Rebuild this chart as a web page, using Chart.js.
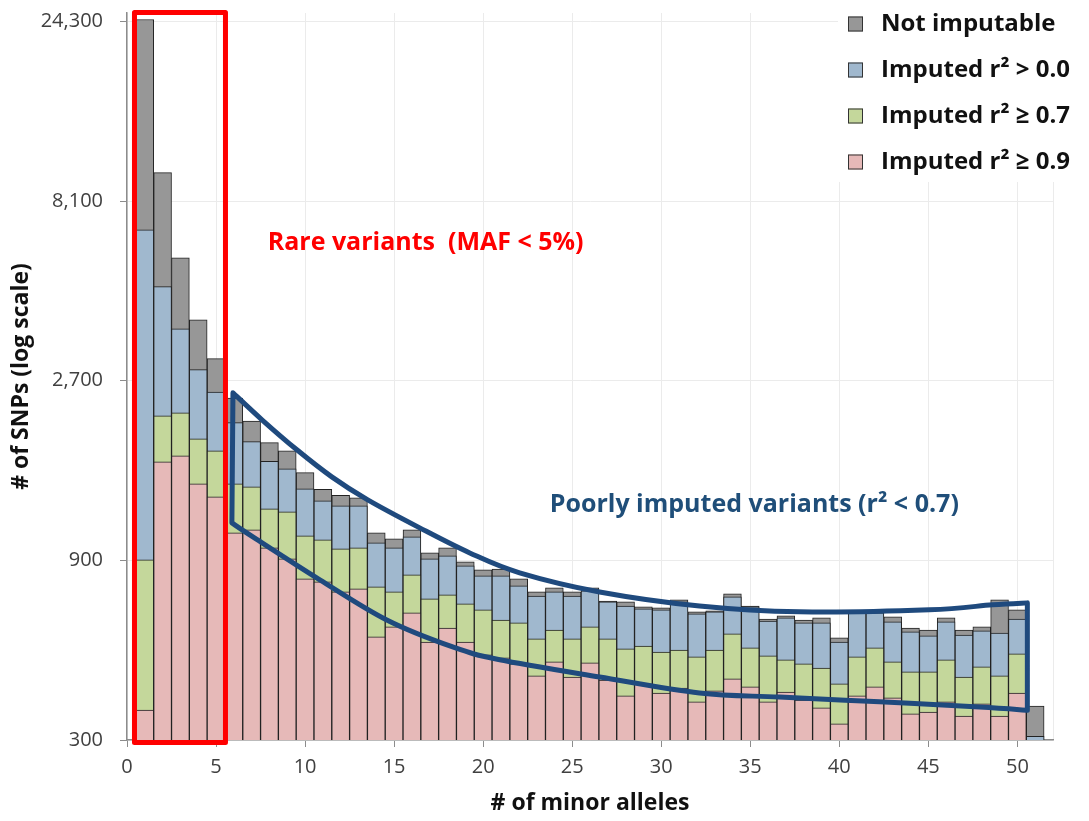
<!DOCTYPE html>
<html>
<head>
<meta charset="utf-8">
<script src="https://cdn.jsdelivr.net/npm/chart.js@4.4.1/dist/chart.umd.min.js"></script>
<style>
  html, body { margin: 0; padding: 0; background: #fff; }
  #wrap { width: 1089px; height: 821px; position: relative; }
</style>
</head>
<body>
<div id="wrap"><canvas id="snpChart"></canvas></div>
<script>
// minor allele count per bin
const alleles = [1, 2, 3, 4, 5, 6, 7, 8, 9, 10, 11, 12, 13, 14, 15, 16, 17, 18, 19, 20,
  21, 22, 23, 24, 25, 26, 27, 28, 29, 30, 31, 32, 33, 34, 35, 36, 37, 38, 39, 40,
  41, 42, 43, 44, 45, 46, 47, 48, 49, 50, 51]

// top of each coloured band (bands are nested, so these are running totals)
const notImputable = [24600, 9640, 5730, 3920, 3090, 2430, 2110, 1850, 1760, 1540,
  1390, 1340, 1320, 1065, 1027, 1085, 942, 972, 892, 849,
  854, 804, 742, 761, 742, 761, 702, 698, 677, 673,
  707, 657, 661, 733, 681, 629, 641, 625, 633, 560,
  661, 661, 637, 595, 588, 633, 588, 599, 707, 665, 369]
const imputedAny = [6800, 4800, 3710, 2890, 2520, 2090, 1860, 1650, 1576, 1394,
  1295, 1256, 1256, 1002, 972, 1039, 908, 925, 870, 819,
  819, 770, 724, 742, 724, 747, 698, 681, 669, 665,
  698, 649, 657, 720, 677, 621, 633, 614, 614, 546,
  653, 653, 618, 581, 567, 618, 570, 585, 577, 629, 307]
const imputed07 = [903, 2180, 2220, 1893, 1759, 1437, 1411, 1233, 1211, 1046,
  1020, 966, 972, 765, 742, 824, 711, 729, 690, 665,
  625, 614, 557, 588, 557, 599, 557, 524, 533, 514,
  520, 499, 520, 574, 527, 502, 490, 478, 466, 423,
  499, 527, 484, 455, 455, 490, 441, 469, 444, 508, null]
const imputed09 = [360, 1644, 1706, 1437, 1327, 1065, 1085, 972, 908, 804,
  789, 742, 756, 564, 599, 653, 546, 595, 546, 505,
  496, 478, 444, 484, 441, 481, 433, 393, 423, 400,
  412, 379, 405, 436, 415, 379, 402, 383, 365, 331,
  393, 415, 388, 352, 356, 379, 347, 374, 347, 400, null]

const yTicks = [300, 900, 2700, 8100, 24300]
const xTicks = [0, 5, 10, 15, 20, 25, 30, 35, 40, 45, 50]

const seriesLabels = ['Not imputable', 'Imputed r\u00b2 > 0.0', 'Imputed r\u00b2 \u2265 0.7', 'Imputed r\u00b2 \u2265 0.9']
const seriesColors = ['#979797', '#a0b8ce', '#c4d79b', '#e6b9b8']

// outline of the "poorly imputed" region, in data units (alleles, SNPs)
const poorUpper = [[5.95, 2509], [7.58, 2127], [9.54, 1770], [11.5, 1500], [13.52, 1303],
  [16.44, 1098], [19.25, 942], [22.05, 834], [26.54, 742], [32.15, 681], [37.77, 657],
  [45.06, 665], [48.6, 686], [50.56, 694]]
const poorLower = [[50.56, 360], [47.87, 367], [42.26, 379], [36.64, 390], [32.15, 400],
  [26.54, 441], [20.93, 490], [18.29, 530], [14.59, 625], [10.83, 799],
  [7.07, 1039], [5.89, 1132]]

const FONT = "'Open Sans', 'DejaVu Sans', sans-serif"

function points (vals) {
  return alleles.map((a, i) => ({ x: a, y: vals[i] }))
}

// catmull-rom through the given pixel points
function splineTo (ctx, pts, first) {
  if (first) ctx.moveTo(pts[0][0], pts[0][1])
  else ctx.lineTo(pts[0][0], pts[0][1])
  for (let i = 0; i < pts.length - 1; i++) {
    const p0 = pts[Math.max(i - 1, 0)]
    const p1 = pts[i]
    const p2 = pts[i + 1]
    const p3 = pts[Math.min(i + 2, pts.length - 1)]
    ctx.bezierCurveTo(
      p1[0] + (p2[0] - p0[0]) / 6, p1[1] + (p2[1] - p0[1]) / 6,
      p2[0] - (p3[0] - p1[0]) / 6, p2[1] - (p3[1] - p1[1]) / 6,
      p2[0], p2[1])
  }
}

const overlay = {
  id: 'overlay',
  afterDatasetsDraw (chart) {
    const { ctx, chartArea, scales: { x, y } } = chart
    const px = p => [x.getPixelForValue(p[0]), y.getPixelForValue(p[1])]
    ctx.save()

    // red box round the rare variants
    ctx.strokeStyle = '#ff0000'
    ctx.lineWidth = 5
    ctx.lineJoin = 'round'
    const l = x.getPixelForValue(0.42)
    const r = x.getPixelForValue(5.53)
    const t = chartArea.top - 0.5
    ctx.strokeRect(l, t, r - l, chartArea.bottom + 2.5 - t)

    // blue outline
    ctx.strokeStyle = '#1f4a7e'
    ctx.lineWidth = 5
    ctx.beginPath()
    splineTo(ctx, poorUpper.map(px), true)
    splineTo(ctx, poorLower.map(px), false)
    ctx.closePath()
    ctx.stroke()

    ctx.textBaseline = 'middle'
    ctx.textAlign = 'left'
    ctx.font = 'bold 25px ' + FONT
    ctx.fillStyle = '#ff0000'
    ctx.fillText('Rare variants  (MAF < 5%)', x.getPixelForValue(7.9), y.getPixelForValue(6280))
    ctx.fillStyle = '#1f4e79'
    ctx.fillText('Poorly imputed variants (r\u00b2 < 0.7)', x.getPixelForValue(23.74), y.getPixelForValue(1264))
    ctx.restore()
  },
  afterDraw (chart) {
    const { ctx } = chart
    ctx.save()
    ctx.fillStyle = '#fff'
    ctx.fillRect(838, 0, 251, 182)
    ctx.font = 'bold 24px ' + FONT
    ctx.textBaseline = 'middle'
    ctx.textAlign = 'left'
    seriesLabels.forEach((label, i) => {
      const cy = 24 + i * 46
      ctx.fillStyle = seriesColors[i]
      ctx.fillRect(848, cy - 7.5, 15, 15)
      ctx.strokeStyle = '#333'
      ctx.lineWidth = 1
      ctx.strokeRect(848.5, cy - 7, 14, 14)
      ctx.fillStyle = '#111'
      ctx.fillText(label, 881, cy)
    })
    ctx.restore()
  }
}

const bandValues = [notImputable, imputedAny, imputed07, imputed09]

const ctx = document.getElementById('snpChart').getContext('2d')
const snpChart = new Chart(ctx, {
  type: 'bar',
  data: {
    datasets: bandValues.map((vals, i) => ({
      label: seriesLabels[i],
      data: points(vals),
      backgroundColor: seriesColors[i],
      borderColor: '#222',
      borderWidth: 1,
      borderSkipped: 'start',
      barPercentage: 1,
      categoryPercentage: 1,
      grouped: false,
      order: 4 - i
    }))
  },
  options: {
    responsive: true,
    maintainAspectRatio: false,
    animation: false,
    layout: { padding: { left: 0, right: 36, top: 13, bottom: 0 } },
    plugins: {
      legend: { display: false },
      tooltip: { enabled: false }
    },
    scales: {
      x: {
        type: 'linear',
        min: 0,
        max: 52,
        offset: false,
        afterBuildTicks: axis => { axis.ticks = xTicks.concat([52]).map(v => ({ value: v })) },
        afterFit: axis => {
          axis.height = 81
          axis.paddingLeft = 0
          axis.paddingRight = 0
        },
        ticks: {
          autoSkip: false,
          maxRotation: 0,
          padding: 8,
          color: '#404040',
          font: { family: FONT, size: 20 },
          callback: v => (v === 52 ? '' : v)
        },
        grid: {
          offset: false,
          color: '#ebebeb',
          tickLength: 7,
          tickColor: c => (c.tick && c.tick.value === 52 ? 'rgba(0,0,0,0)' : '#8c8c8c')
        },
        border: { color: '#8c8c8c', width: 1.5 },
        title: {
          display: true,
          text: '# of minor alleles',
          color: '#111',
          font: { family: FONT, size: 23, weight: 'bold' },
          padding: { top: 0, bottom: 4 }
        }
      },
      y: {
        type: 'logarithmic',
        min: 300,
        max: 25600,
        afterBuildTicks: axis => { axis.ticks = yTicks.map(v => ({ value: v })) },
        afterFit: axis => {
          axis.width = 127
          axis.paddingTop = 0
          axis.paddingBottom = 0
        },
        ticks: {
          padding: 17,
          color: '#404040',
          font: { family: FONT, size: 20 },
          callback: v => Number(v).toLocaleString('en-US')
        },
        grid: { color: '#ebebeb', tickLength: 7, tickColor: '#8c8c8c' },
        border: { color: '#8c8c8c', width: 1.5 },
        title: {
          display: true,
          text: '# of SNPs (log scale)',
          color: '#111',
          font: { family: FONT, size: 23, weight: 'bold' },
          padding: { top: 8, bottom: 0 }
        }
      }
    }
  },
  plugins: [overlay]
})
</script>
</body>
</html>
